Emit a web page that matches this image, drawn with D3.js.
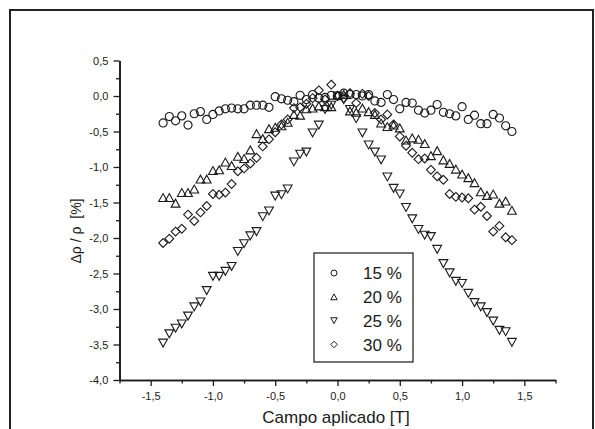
<!DOCTYPE html>
<html><head><meta charset="utf-8">
<script src="https://cdn.jsdelivr.net/npm/d3@7"></script>
<style>html,body{margin:0;padding:0;background:#fff;}svg{display:block;}</style>
</head><body>
<svg id="chart" width="595" height="429"></svg>
<script>
const fieldT = [-1.40,-1.35,-1.30,-1.25,-1.20,-1.15,-1.10,-1.05,-1.00,-0.95,-0.90,-0.85,-0.80,-0.75,-0.70,-0.65,-0.60,-0.55,-0.50,-0.45,-0.40,-0.35,-0.30,-0.25,-0.20,-0.15,-0.10,-0.05,0.00,0.05,0.10,0.15,0.20,0.25,0.30,0.35,0.40,0.45,0.50,0.55,0.60,0.65,0.70,0.75,0.80,0.85,0.90,0.95,1.00,1.05,1.10,1.15,1.20,1.25,1.30,1.35,1.40];
const s15 = [-0.38,-0.29,-0.35,-0.28,-0.41,-0.25,-0.22,-0.33,-0.26,-0.21,-0.18,-0.17,-0.18,-0.18,-0.13,-0.13,-0.13,-0.16,-0.01,-0.04,-0.06,-0.08,0.01,-0.05,0.02,-0.03,-0.02,0.01,0.00,0.04,0.02,0.02,0.00,0.02,-0.07,-0.09,0.02,-0.05,-0.18,-0.09,-0.10,-0.20,-0.24,-0.20,-0.12,-0.23,-0.25,-0.28,-0.15,-0.33,-0.27,-0.39,-0.39,-0.26,-0.31,-0.42,-0.50];
const s20 = [-1.43,-1.43,-1.51,-1.36,-1.36,-1.31,-1.17,-1.17,-1.05,-1.04,-0.93,-0.98,-0.85,-0.88,-0.76,-0.53,-0.60,-0.46,-0.44,-0.42,-0.37,-0.26,-0.27,-0.18,-0.17,-0.14,-0.15,-0.15,0.01,0.02,-0.21,-0.23,-0.17,-0.22,-0.26,-0.38,-0.43,-0.41,-0.45,-0.62,-0.59,-0.61,-0.67,-0.84,-0.77,-0.90,-0.95,-1.03,-1.10,-1.15,-1.22,-1.35,-1.40,-1.38,-1.51,-1.48,-1.61];
const s25 = [-3.48,-3.35,-3.27,-3.21,-3.10,-2.97,-2.90,-2.74,-2.54,-2.54,-2.47,-2.40,-2.19,-2.08,-1.97,-1.91,-1.70,-1.62,-1.41,-1.39,-1.31,-0.93,-0.82,-0.79,-0.52,-0.41,-0.19,-0.13,0.00,-0.05,-0.19,-0.32,-0.52,-0.69,-0.79,-0.90,-1.14,-1.30,-1.38,-1.57,-1.73,-1.88,-1.96,-1.98,-2.16,-2.36,-2.49,-2.61,-2.64,-2.78,-2.91,-2.97,-3.05,-3.17,-3.30,-3.32,-3.47];
const s30 = [-2.07,-2.01,-1.91,-1.87,-1.67,-1.76,-1.64,-1.55,-1.38,-1.39,-1.36,-1.24,-1.06,-1.02,-0.95,-0.87,-0.71,-0.61,-0.51,-0.40,-0.33,-0.17,-0.16,-0.11,-0.03,0.08,-0.05,0.16,0.00,-0.03,0.04,-0.10,0.03,0.00,-0.24,-0.33,-0.26,-0.40,-0.57,-0.70,-0.80,-0.89,-0.88,-1.04,-1.13,-1.18,-1.38,-1.42,-1.43,-1.44,-1.60,-1.56,-1.69,-1.91,-1.83,-1.99,-2.03];
const seriesNames = ["15 %","20 %","25 %","30 %"];
const seriesShapes = ["circle","up","down","diamond"];
const seriesValues = [s15, s20, s25, s30];
const xTicks = [-1.5,-1.0,-0.5,0.0,0.5,1.0,1.5];
const yTicks = [0.5,0.0,-0.5,-1.0,-1.5,-2.0,-2.5,-3.0,-3.5,-4.0];
const xMinor = [-1.75,-1.25,-0.75,-0.25,0.25,0.75,1.25,1.75];
const yMinor = [0.25,-0.25,-0.75,-1.25,-1.75,-2.25,-2.75,-3.25,-3.75];

const svg = d3.select("#chart");
const FONT = "'Liberation Sans', Arial, sans-serif";
const INK = "#1a1a1a";

// outer frame
svg.append("rect").attr("x",10).attr("y",10).attr("width",583).attr("height",440)
  .attr("fill","none").attr("stroke","#222").attr("stroke-width",2);

const x = d3.scaleLinear().domain([-1.75,1.75]).range([119.5,555.5]);
const y = d3.scaleLinear().domain([-4,0.5]).range([380,60.5]);
const fmt = d => d3.format(".1f")(d).replace(".",",").replace("−","-");

// X axis
const gx = svg.append("g").attr("transform","translate(0,380)");
gx.call(d3.axisBottom(x).tickValues(xTicks).tickFormat(fmt).tickSize(6).tickSizeOuter(0));
gx.append("g").call(d3.axisBottom(x).tickValues(xMinor).tickFormat("").tickSize(3.5).tickSizeOuter(0));
// Y axis
const gy = svg.append("g").attr("transform","translate(119.5,0)");
gy.call(d3.axisLeft(y).tickValues(yTicks).tickFormat(fmt).tickSize(6).tickSizeOuter(0));
gy.append("g").call(d3.axisLeft(y).tickValues(yMinor).tickFormat("").tickSize(3.5).tickSizeOuter(0));

svg.selectAll(".domain").attr("stroke",INK).attr("stroke-width",1.6);
svg.selectAll(".tick line").attr("stroke",INK).attr("stroke-width",1.3);
svg.selectAll(".tick text").attr("font-family",FONT).attr("font-size",11).attr("fill",INK);
gx.selectAll(".tick text").attr("dy","1.0em");
gy.selectAll(".tick text").attr("dx","-0.2em");

// Axis titles
svg.append("text").attr("x",336).attr("y",423).attr("text-anchor","middle")
  .attr("font-family",FONT).attr("font-size",17).attr("fill",INK).text("Campo aplicado [T]");
svg.append("text").attr("transform","translate(81,231) rotate(-90)").attr("text-anchor","middle")
  .style("white-space","pre")
  .attr("font-family",FONT).attr("font-size",14).attr("fill",INK).text("Δρ / ρ  [%]");

// marker path generator
function shapePath(type, s) {
  const h = s/2;
  if (type === "circle") return d3.symbol(d3.symbolCircle, Math.PI*h*h*0.85)();
  if (type === "up") { const t = s*0.45; return `M${-h},${t} L${h},${t} L0,${-t} Z`; }
  if (type === "down") { const t = s*0.45; return `M${-h},${-t} L${h},${-t} L0,${t} Z`; }
  if (type === "diamond") return `M0,${-h} L${h},0 L0,${h} L${-h},0 Z`;
}

seriesValues.forEach((vals, si) => {
  const p = shapePath(seriesShapes[si], 8.8);
  svg.append("g").selectAll("path").data(vals).join("path")
    .attr("transform",(d,i)=>`translate(${x(fieldT[i])},${y(d)})`)
    .attr("d",p).attr("fill","none").attr("stroke",INK).attr("stroke-width",1.1);
});

// Legend
const lg = svg.append("g");
lg.append("rect").attr("x",314).attr("y",253).attr("width",99).attr("height",109)
  .attr("fill","#fff").attr("stroke",INK).attr("stroke-width",1.2);
const rowY = d3.scaleLinear().domain([0,3]).range([273,344.5]);
seriesNames.forEach((n, i) => {
  lg.append("path").attr("transform",`translate(334,${rowY(i)})`).attr("d",shapePath(seriesShapes[i],6.5))
    .attr("fill","none").attr("stroke",INK).attr("stroke-width",1);
  lg.append("text").attr("x",363).attr("y",rowY(i)).attr("dy","0.36em")
    .attr("font-family",FONT).attr("font-size",17).attr("fill",INK).text(n);
});
</script>
</body></html>
